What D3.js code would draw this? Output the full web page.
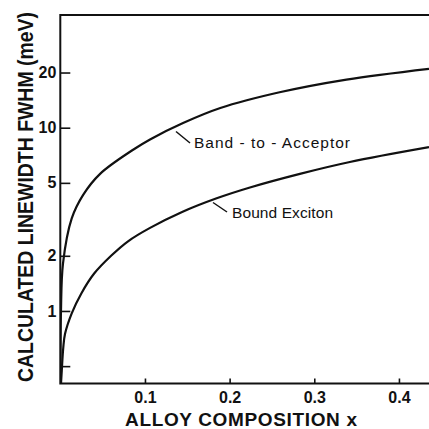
<!DOCTYPE html>
<html>
<head>
<meta charset="utf-8">
<script src="https://cdn.jsdelivr.net/npm/d3@7"></script>
<style>
  html, body { margin: 0; padding: 0; background: #fff; }
  svg { display: block; }
  text { font-family: "Liberation Sans", Arial, sans-serif; fill: #111; }
</style>
</head>
<body>
<svg id="chart" width="429" height="429"></svg>
<script>
// Alloy composition (x) and calculated linewidths (meV)
const bandAcceptorX = [0, 0.0003, 0.0008, 0.0032, 0.0135, 0.027, 0.047, 0.086, 0.106, 0.145, 0.189, 0.259, 0.338, 0.4355];
const bandAcceptorY = [0.40, 0.6, 1.0, 1.82, 3.2, 4.3, 5.6, 7.58, 8.63, 10.6, 12.8, 15.6, 18.3, 20.96];

const boundExcitonX = [0.0008, 0.0017, 0.0035, 0.0056, 0.0135, 0.025, 0.04, 0.06, 0.08, 0.106, 0.1445, 0.1847, 0.224, 0.283, 0.342, 0.4355];
const boundExcitonY = [0.40, 0.47, 0.63, 0.75, 0.97, 1.25, 1.6, 2.0, 2.4, 2.84, 3.48, 4.12, 4.72, 5.6, 6.5, 7.83];

const xTicks = [0.1, 0.2, 0.3, 0.4];
const xTickLabels = ["0.1", "0.2", "0.3", "0.4"];
const yTicks = [0.5, 1, 2, 5, 10, 20];
const yTickLabels = ["", "1", "2", "5", "10", "20"];

const seriesNames = ["Band - to - Acceptor", "Bound Exciton"];

const svg = d3.select("#chart");
const plotLeft = 60.3, plotRight = 429, plotTop = 15, plotBottom = 383.5;

const x = d3.scaleLinear().domain([0, 0.4355]).range([plotLeft, plotRight]);
const y = d3.scaleLog().domain([0.402, 41.2]).range([plotBottom, plotTop]);

// frame: left axis, bottom axis, top border
const frame = svg.append("g").attr("stroke", "#111").attr("stroke-width", 2).attr("fill", "none");
frame.append("path").attr("d", `M${plotRight},${plotTop}H${plotLeft}V${plotBottom}H${plotRight}`);

// y axis (ticks inward)
const yAxis = d3.axisLeft(y)
  .tickValues(yTicks)
  .tickFormat((d, i) => yTickLabels[i])
  .tickSizeInner(-10)
  .tickSizeOuter(0)
  .tickPadding(4);
const gy = svg.append("g").attr("transform", `translate(${plotLeft},0)`).call(yAxis);
gy.select(".domain").remove();
gy.selectAll(".tick line").attr("stroke", "#111").attr("stroke-width", 1.6);
gy.selectAll(".tick text").attr("font-size", 16).attr("font-weight", "bold")
  .attr("font-family", "Liberation Sans, Arial, sans-serif").attr("fill", "#111");

// x axis (ticks inward)
const xAxis = d3.axisBottom(x)
  .tickValues(xTicks)
  .tickFormat((d, i) => xTickLabels[i])
  .tickSizeInner(-5)
  .tickSizeOuter(0)
  .tickPadding(8);
const gx = svg.append("g").attr("transform", `translate(0,${plotBottom})`).call(xAxis);
gx.select(".domain").remove();
gx.selectAll(".tick line").attr("stroke", "#111").attr("stroke-width", 1.6);
gx.selectAll(".tick text").attr("font-size", 16).attr("font-weight", "bold")
  .attr("font-family", "Liberation Sans, Arial, sans-serif").attr("fill", "#111");

// curves
const line = d3.line()
  .x(d => x(d[0]))
  .y(d => y(d[1]))
  .curve(d3.curveCatmullRom.alpha(0.5));

const bandData = bandAcceptorX.map((v, i) => [v, bandAcceptorY[i]]);
const boundData = boundExcitonX.map((v, i) => [v, boundExcitonY[i]]);

svg.append("defs").append("clipPath").attr("id", "plot")
  .append("rect").attr("x", plotLeft).attr("y", plotTop)
  .attr("width", plotRight - plotLeft).attr("height", plotBottom - plotTop);

const curves = svg.append("g").attr("clip-path", "url(#plot)")
  .attr("fill", "none").attr("stroke", "#111").attr("stroke-width", 2.2);
curves.append("path").attr("d", line(bandData));
curves.append("path").attr("d", line(boundData));

// curve labels with leader lines
const labels = svg.append("g");
labels.append("line").attr("x1", 176).attr("y1", 131.5).attr("x2", 190).attr("y2", 143)
  .attr("stroke", "#111").attr("stroke-width", 1.5);
labels.append("text").attr("x", 194).attr("y", 147.5).attr("font-size", 15.5)
  .attr("textLength", 156).attr("lengthAdjust", "spacing").text(seriesNames[0]);

labels.append("line").attr("x1", 213).attr("y1", 202.5).attr("x2", 227).attr("y2", 212)
  .attr("stroke", "#111").attr("stroke-width", 1.5);
labels.append("text").attr("x", 232).attr("y", 217.5).attr("font-size", 15.5)
  .attr("textLength", 101).attr("lengthAdjust", "spacing").text(seriesNames[1]);

// axis titles
svg.append("text")
  .attr("x", 241).attr("y", 426)
  .attr("text-anchor", "middle")
  .attr("font-size", 19).attr("font-weight", "bold")
  .attr("textLength", 232).attr("lengthAdjust", "spacing")
  .text("ALLOY COMPOSITION x");

svg.append("text")
  .attr("transform", "translate(33,197) rotate(-90)")
  .attr("text-anchor", "middle")
  .attr("font-size", 22).attr("font-weight", "bold")
  .attr("textLength", 370).attr("lengthAdjust", "spacingAndGlyphs")
  .text("CALCULATED LINEWIDTH FWHM (meV)");
</script>
</body>
</html>
